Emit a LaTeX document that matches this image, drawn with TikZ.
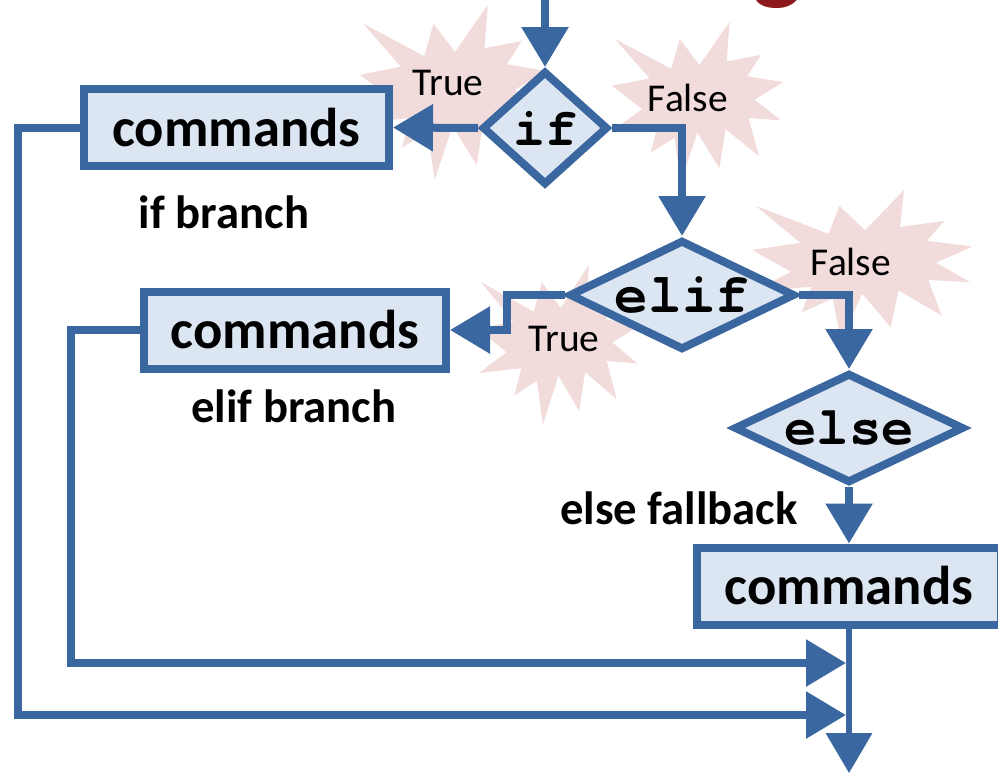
\documentclass[tikz,border=0pt]{standalone}
\usepackage{fontspec}
\setmainfont{Carlito}
\newfontfamily\codefont{TeX Gyre Cursor}
\usetikzlibrary{arrows.meta,shapes.geometric,shadows}
\definecolor{flowblue}{HTML}{3B67A0}
\definecolor{boxfill}{HTML}{DCE6F2}
\definecolor{burstpink}{HTML}{F2DCDB}
\definecolor{titlered}{HTML}{8C1A1A}
\tikzset{
  softshadow/.style={drop shadow={shadow xshift=2pt,shadow yshift=-2pt,opacity=0.25,fill=black}},
  cmdbox/.style={rectangle, draw=flowblue, line width=6pt, fill=boxfill, inner sep=0pt,
    minimum height=57.75pt, font=\fontsize{41}{41}\selectfont\bfseries, softshadow},
  decision/.style={diamond, aspect=2, draw=flowblue, line width=6pt, fill=boxfill, inner sep=0pt,
    minimum height=82.5pt, softshadow},
  flow/.style={draw=flowblue, line width=6pt, line join=miter, -{Triangle[length=30pt,width=34pt]},
    preaction={draw=black, opacity=0.15, transform canvas={shift={(1.5pt,-1.5pt)}}}},
  branchlabel/.style={inner sep=0pt, font=\fontsize{35}{35}\selectfont\bfseries},
  tflabel/.style={inner sep=0pt, font=\fontsize{29.6}{30}\selectfont},
  burst/.pic={\fill[burstpink] (0.5,0.2685) -- (0.6723,0) -- (0.6553,0.2465) -- (0.8509,0.2063)
    -- (0.7732,0.3387) -- (0.9767,0.3767) -- (0.8151,0.4850) -- (0.9656,0.6153) -- (0.7795,0.5992)
    -- (0.8400,0.8377) -- (0.6491,0.6693) -- (0.6133,0.9137) -- (0.4876,0.6914) -- (0.3928,1)
    -- (0.3572,0.7235) -- (0.2205,0.8156) -- (0.2624,0.6452) -- (0.00625,0.6753) -- (0.1723,0.5451)
    -- (0,0.3988) -- (0.2142,0.3526) -- (0.0171,0.1063) -- (0.3385,0.2926) -- (0.3867,0.1063) -- cycle;}
}
\begin{document}
\begin{tikzpicture}[x=0.75pt,y=-0.75pt]
\fill[white] (0,0) rectangle (998,775);
\useasboundingbox (0,0) rectangle (998,775);

% title fragment
\node[inner sep=0pt, anchor=south, text=titlered, font=\fontsize{80}{80}\selectfont\bfseries] (title) at (778,9) {g};

% explosion backgrounds
\pic[xscale=190, yscale=175] at (360,5) {burst};
\pic[xscale=175, yscale=160] at (612,22) {burst};
\pic[xscale=226, yscale=150] at (752,190) {burst};
\pic[xscale=165, yscale=160] at (478,265) {burst};

% nodes
\node[decision, minimum width=94.5pt, minimum height=85.5pt, aspect=1, font=\codefont\fontsize{40}{40}\selectfont\bfseries] (if) at (545,128) {if};
\node[decision, minimum width=169.5pt, font=\codefont\fontsize{42}{42}\selectfont\bfseries] (elif) at (682,295) {elif};
\node[decision, minimum width=172.5pt, font=\codefont\fontsize{40.5}{40.5}\selectfont\bfseries] (else) at (849,428) {else};

\node[cmdbox, minimum width=228.75pt] (c1) at (236.5,127.5) {commands};
\node[cmdbox, minimum width=226.5pt] (c2) at (295,330) {commands};
\node[cmdbox, minimum width=228pt] (c3) at (849,586) {commands};

\node[branchlabel] (l1) at (224,212) {if branch};
\node[branchlabel] (l2) at (294,406) {elif branch};
\node[branchlabel] (l3) at (679,508) {else fallback};

\node[tflabel] (t1) at (448,83) {True};
\node[tflabel] (f1) at (688,98) {False};
\node[tflabel] (t2) at (564,339) {True};
\node[tflabel] (f2) at (851,262) {False};

% connectors
\coordinate (start) at (545,-2);
\coordinate (j1) at (846,663);
\coordinate (j2) at (846,715);
\coordinate (stop) at (849,773);

\draw[flow] (start) -- (if.north);
\draw[flow] (if.west) -- (c1.east);
\draw[flow] (if.east) -| (elif.north);
\draw[flow] (elif.west) -- ++(-58,0) |- (c2.east);
\draw[flow] (elif.east) -| (else.north);
\draw[flow] (else.south) -- (c3.north);
\draw[flow] (c2.west) -- ++(-69,0) |- (j1);
\draw[flow] (c1.west) -- ++(-62,0) |- (j2);
\draw[flow, line width=4.5pt] (c3.south) -- (stop);
\end{tikzpicture}
\end{document}
